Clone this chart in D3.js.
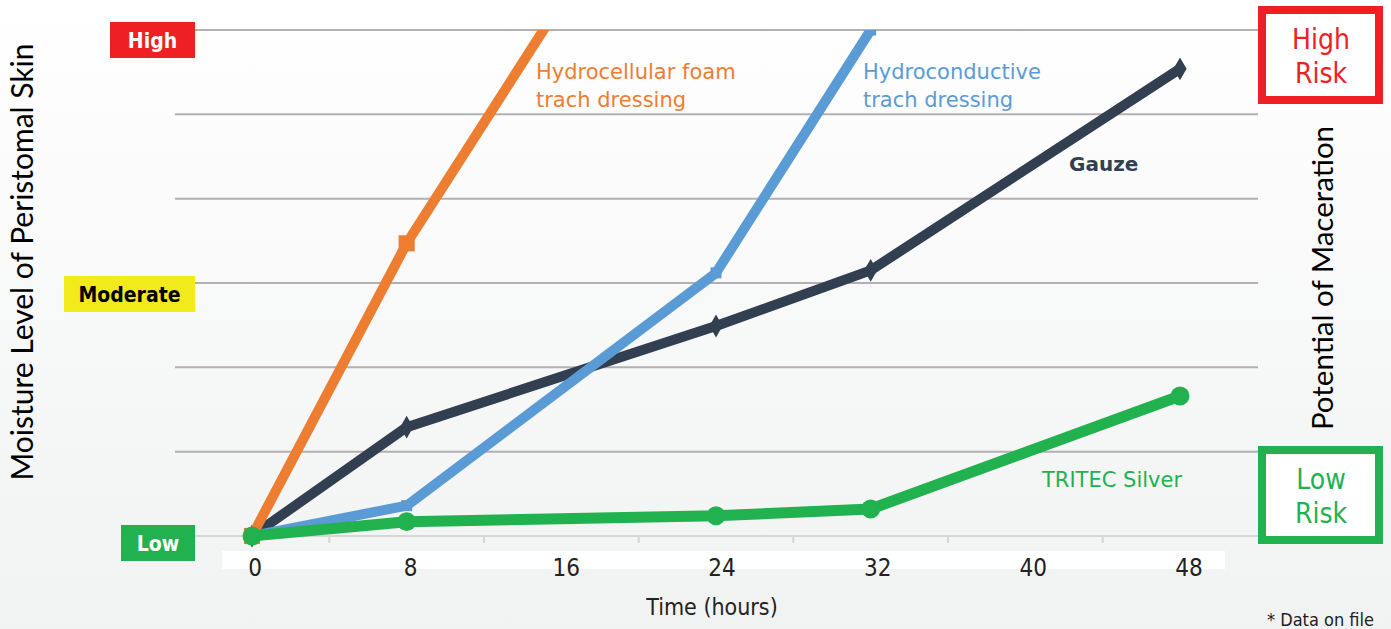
<!DOCTYPE html>
<html>
<head>
<meta charset="utf-8">
<script src="https://cdn.jsdelivr.net/npm/d3@7"></script>
<style>
  html, body { margin: 0; padding: 0; overflow: hidden; }
  svg { display: block; }
</style>
</head>
<body>
<svg id="chart"></svg>
<script>
// data: moisture level 0 (Low) .. 6 (High)
const tickHours = [0, 8, 16, 24, 32, 40, 48];
const foamHours = [0, 8, 16];
const foamLevel = [0, 3.47, 6.33];
const hydroHours = [0, 8, 24, 32];
const hydroLevel = [0, 0.36, 3.12, 6.0];
const gauzeHours = [0, 8, 24, 32, 48];
const gauzeLevel = [0, 1.29, 2.49, 3.15, 5.54];
const tritecHours = [0, 8, 24, 32, 48];
const tritecLevel = [0, 0.17, 0.24, 0.32, 1.66];
const levelNames = ['Low', 'Moderate', 'High'];
const levelValues = [0, 3, 6];

const width = 1391, height = 629;
const svg = d3.select('#chart').attr('width', width).attr('height', height);

const x = d3.scaleLinear().domain([0, 48]).range([252, 1180]);
const y = d3.scaleLinear().domain([0, 6]).range([536, 30]);
const xLabel = d3.scalePoint().domain(tickHours).range([255, 1189]);

const sans = 'DejaVu Sans, sans-serif';
const narrow = 'DejaVu Sans Condensed, DejaVu Sans, sans-serif';

// background
const defs = svg.append('defs');
const grad = defs.append('linearGradient').attr('id', 'bg')
  .attr('x1', 0).attr('y1', 0).attr('x2', 0).attr('y2', 1);
grad.append('stop').attr('offset', '0%').attr('stop-color', '#ffffff');
grad.append('stop').attr('offset', '100%').attr('stop-color', '#f1f2f2');
svg.append('rect').attr('width', width).attr('height', height).attr('fill', 'url(#bg)');

defs.append('clipPath').attr('id', 'plot')
  .append('rect').attr('x', 150).attr('y', y(6)).attr('width', 1120).attr('height', 560);

// gridlines
svg.append('g').selectAll('line')
  .data(d3.range(1, 7))
  .join('line')
  .attr('x1', 175).attr('x2', 1258)
  .attr('y1', d => y(d)).attr('y2', d => y(d))
  .attr('stroke', '#b4b0b1').attr('stroke-width', 2);

// x axis line + ticks between categories
svg.append('line')
  .attr('x1', 175).attr('x2', 1258).attr('y1', y(0)).attr('y2', y(0))
  .attr('stroke', '#d6d6d6').attr('stroke-width', 2);
svg.append('g').selectAll('line')
  .data(tickHours.slice(1))
  .join('line')
  .attr('x1', d => x(d - 4)).attr('x2', d => x(d - 4))
  .attr('y1', y(0)).attr('y2', y(0) + 7)
  .attr('stroke', '#d6d6d6').attr('stroke-width', 2);

// white band behind tick labels
svg.append('rect').attr('x', 222).attr('y', 551).attr('width', 1003).attr('height', 18).attr('fill', '#ffffff');
svg.append('g').selectAll('text')
  .data(tickHours)
  .join('text')
  .attr('x', d => xLabel(d)).attr('y', 576)
  .attr('text-anchor', 'middle')
  .attr('font-family', narrow)
  .attr('font-size', 24).attr('fill', '#222')
  .text(d => d);

svg.append('text').attr('x', 712).attr('y', 615)
  .attr('text-anchor', 'middle')
  .attr('font-family', narrow)
  .attr('font-size', 23).attr('fill', '#222')
  .text('Time (hours)');

svg.append('text').attr('x', 1374).attr('y', 626)
  .attr('text-anchor', 'end')
  .attr('font-family', narrow)
  .attr('font-size', 18).attr('fill', '#222')
  .text('* Data on file');

// axis titles
svg.append('text')
  .attr('transform', 'translate(33,262) rotate(-90)')
  .attr('text-anchor', 'middle')
  .attr('font-family', 'Lato, sans-serif')
  .attr('font-size', 30).attr('fill', '#000')
  .text('Moisture Level of Peristomal Skin');
svg.append('text')
  .attr('transform', 'translate(1333,278) rotate(-90)')
  .attr('text-anchor', 'middle')
  .attr('font-family', 'Lato, sans-serif')
  .attr('font-size', 29.5).attr('fill', '#000')
  .text('Potential of Maceration');

// level badges on the left
const badgeFill = ['#21b24f', '#f2ea1a', '#ee2024'];
const badgeText = ['#ffffff', '#000000', '#ffffff'];
const badgeW = [74, 131, 85];
const badges = svg.append('g').selectAll('g')
  .data(levelNames)
  .join('g');
badges.append('rect')
  .attr('x', (d, i) => 195 - badgeW[i])
  .attr('y', (d, i) => y(levelValues[i]) + [-11, -7, -8][i])
  .attr('width', (d, i) => badgeW[i]).attr('height', 36)
  .attr('fill', (d, i) => badgeFill[i]);
badges.append('text')
  .attr('x', (d, i) => 195 - badgeW[i] / 2)
  .attr('y', (d, i) => y(levelValues[i]) + [-11, -7, -8][i] + 26)
  .attr('text-anchor', 'middle')
  .attr('font-family', narrow)
  .attr('font-weight', 'bold').attr('font-size', 21)
  .attr('fill', (d, i) => badgeText[i])
  .text(d => d);

// risk boxes on the right
const risk = [
  { top: 10, color: '#ee2024', lines: ['High', 'Risk'] },
  { top: 450, color: '#21b24f', lines: ['Low', 'Risk'] }
];
risk.forEach(r => {
  svg.append('rect').attr('x', 1262).attr('y', r.top).attr('width', 117).attr('height', 90)
    .attr('fill', '#ffffff').attr('stroke', r.color).attr('stroke-width', 8);
  r.lines.forEach((t, i) => {
    svg.append('text').attr('x', 1321).attr('y', r.top + 39 + i * 34)
      .attr('text-anchor', 'middle')
      .attr('font-family', narrow)
      .attr('font-size', 28).attr('fill', r.color)
      .text(t);
  });
});

// series
const series = [
  { hours: gauzeHours, level: gauzeLevel, color: '#323f50', symbol: d3.symbolDiamond, size: 150, w: 10 },
  { hours: foamHours, level: foamLevel, color: '#ed7d31', symbol: d3.symbolSquare, size: 260, w: 10 },
  { hours: hydroHours, level: hydroLevel, color: '#5b9bd5', symbol: d3.symbolSquare, size: 120, w: 10 },
  { hours: tritecHours, level: tritecLevel, color: '#21b24f', symbol: d3.symbolCircle, size: 280, w: 11 }
];
const line = d3.line().x(d => x(d[0])).y(d => y(d[1]));
const plot = svg.append('g').attr('clip-path', 'url(#plot)');
series.forEach(s => {
  const pts = s.hours.map((h, i) => [h, s.level[i]]);
  plot.append('path').datum(pts)
    .attr('d', line)
    .attr('fill', 'none').attr('stroke', s.color)
    .attr('stroke-width', s.w).attr('stroke-linejoin', 'round');
  plot.selectAll(null).data(pts.filter(p => p[1] <= 6))
    .join('path')
    .attr('transform', p => 'translate(' + x(p[0]) + ',' + y(p[1]) + ')')
    .attr('d', d3.symbol().type(s.symbol).size(s.size))
    .attr('fill', s.color);
});

// series labels
const labels = [
  { x: 536, y: 79, color: '#ed7d31', weight: 'normal', size: 21, lines: ['Hydrocellular foam', 'trach dressing'] },
  { x: 863, y: 79, color: '#5b9bd5', weight: 'normal', size: 21, lines: ['Hydroconductive', 'trach dressing'] },
  { x: 1069, y: 171, color: '#323f50', weight: 'bold', size: 20, lines: ['Gauze'] },
  { x: 1042, y: 487, color: '#21b24f', weight: 'normal', size: 21, lines: ['TRITEC Silver'] }
];
labels.forEach(l => {
  l.lines.forEach((t, i) => {
    svg.append('text').attr('x', l.x).attr('y', l.y + i * 28)
      .attr('font-family', sans)
      .attr('font-size', l.size).attr('font-weight', l.weight).attr('fill', l.color)
      .text(t);
  });
});
</script>
</body>
</html>
